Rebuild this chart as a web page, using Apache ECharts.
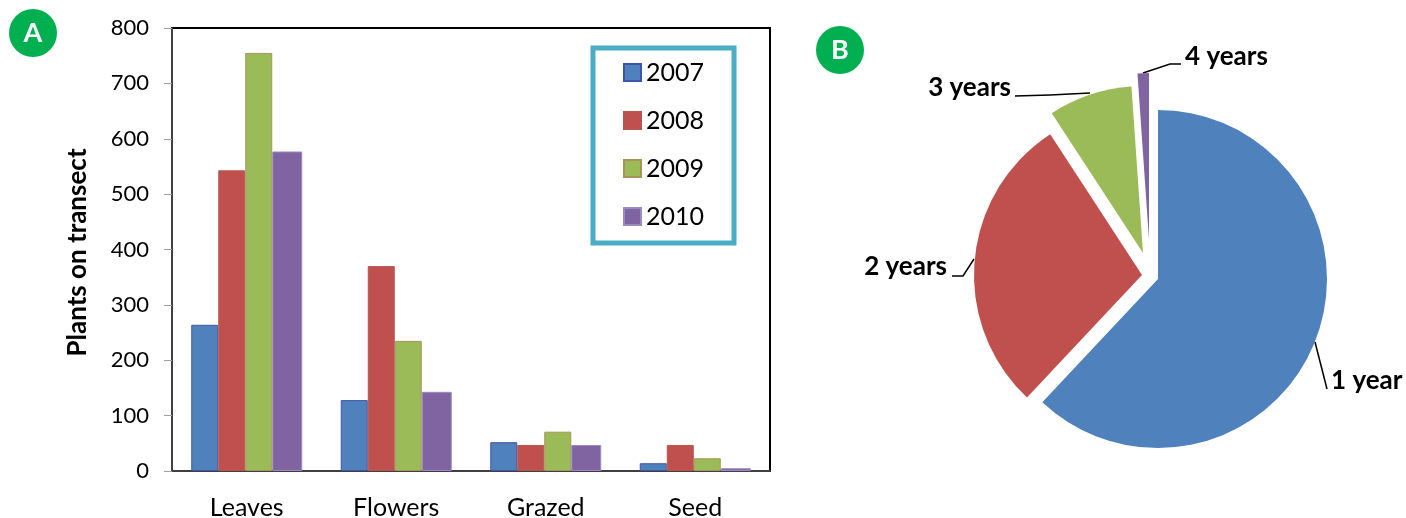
<!DOCTYPE html>
<html>
<head>
<meta charset="utf-8">
<title>Plants on transect</title>
<style>
  html, body { margin: 0; padding: 0; background: #fff; }
  #chart { width: 1406px; height: 518px; }
</style>
<script src="https://cdn.jsdelivr.net/npm/echarts@6/dist/echarts.min.js"></script>
</head>
<body>
<div id="chart"></div>
<script>
const categories = ["Leaves", "Flowers", "Grazed", "Seed"];
const yearNames = ["2007", "2008", "2009", "2010"];
const values2007 = [264, 128, 52, 14];
const values2008 = [543, 370, 47, 47];
const values2009 = [755, 235, 71, 23];
const values2010 = [577, 143, 47, 5];
const yTicks = [0, 800, 100];

const pieNames = ["1 year", "2 years", "3 years", "4 years"];
const pieValues = [62, 28.8, 8.1, 1.1];

const FONT = "Lato";
const colors = ["#4f81bd", "#c0504d", "#9bbb59", "#8064a2"];
const barBorders = ["#3f55a8", "#b5564f", "#a8935a", "#9a8cc0"];
const barWidths = [27, 27, 27, 30];

// each exploded slice is its own pie, pulled away from the shared apex
const sliceCenters = [[1158, 279], [1142, 275], [1143, 253], [1149, 240]];
const sliceRadii = [169, 168, 167, 167];
const labelSpots = [
  { x: 1331, y: 381, align: "left", line: [[1315, 342], [1327, 389], [1327, 389]] },
  { x: 947, y: 267, align: "right", line: [[974, 259], [963, 276], [952, 276]] },
  { x: 1011, y: 88, align: "right", line: [[1090, 93], [1050, 95], [1015, 96]] },
  { x: 1185, y: 57, align: "left", line: [[1143, 73], [1170, 64], [1181, 64]] },
];

const barValues = [values2007, values2008, values2009, values2010];

const barSeries = yearNames.map((name, i) => ({
  name,
  type: "bar",
  data: barValues[i],
  barWidth: barWidths[i],
  barGap: 0,
  itemStyle: { color: colors[i], borderColor: barBorders[i], borderWidth: 1 },
}));

const pieSeries = pieNames.map((name, i) => ({
  type: "pie",
  center: sliceCenters[i],
  radius: [0, sliceRadii[i]],
  startAngle: 90,
  silent: true,
  avoidLabelOverlap: false,
  data: pieNames.map((n, j) => ({
    name: n,
    value: pieValues[j],
    itemStyle: { color: j === i ? colors[i] : "rgba(0,0,0,0)" },
    label: { show: j === i },
    labelLine: { show: j === i },
  })),
  label: {
    position: "outside",
    color: "#000",
    fontFamily: FONT,
    fontWeight: "bold",
    fontSize: 26,
    formatter: "{b}",
  },
  labelLine: { lineStyle: { color: "#000", width: 1.5 }, smooth: false },
  labelLayout: (params) => {
    const spot = labelSpots[i];
    return {
      x: spot.x,
      y: spot.y,
      align: spot.align,
      verticalAlign: "middle",
      labelLinePoints: spot.line,
    };
  },
}));

const badge = (cx, cy, letter) => [
  { type: "circle", shape: { cx, cy, r: 24 }, style: { fill: "#00b050" }, silent: true },
  {
    type: "text",
    silent: true,
    style: {
      x: cx,
      y: cy,
      text: letter,
      fill: "#fff",
      font: `bold 27px ${FONT}`,
      align: "center",
      verticalAlign: "middle",
    },
  },
];

const chart = echarts.init(document.getElementById("chart"), null, { renderer: "canvas" });

chart.setOption({
  animation: false,
  textStyle: { fontFamily: FONT },
  grid: {
    left: 172,
    top: 28,
    width: 598,
    height: 443,
    show: true,
    borderColor: "#000",
    borderWidth: 2,
    containLabel: false,
    outerBoundsMode: "none",
  },
  legend: {
    data: yearNames,
    orient: "vertical",
    left: 593,
    top: 48,
    padding: [12, 30, 14, 30],
    itemWidth: 17,
    itemHeight: 17,
    itemGap: 23,
    borderColor: "#4bacc6",
    borderWidth: 5,
    icon: "rect",
    textStyle: { fontFamily: FONT, fontSize: 25, color: "#000" },
  },
  xAxis: {
    type: "category",
    data: categories,
    axisLine: { lineStyle: { color: "#404040", width: 2 } },
    axisTick: { length: 8, lineStyle: { color: "#a0a0a0", width: 1 } },
    axisLabel: { color: "#000", fontSize: 25, fontFamily: FONT, margin: 24 },
  },
  yAxis: {
    type: "value",
    min: yTicks[0],
    max: yTicks[1],
    interval: yTicks[2],
    name: "Plants on transect",
    nameLocation: "middle",
    nameGap: 81,
    nameTextStyle: {
      color: "#000",
      fontSize: 26,
      fontWeight: "bold",
      fontFamily: FONT,
      padding: [0, 6, 0, 0],
    },
    splitLine: { show: false },
    axisLine: { show: true, lineStyle: { color: "#404040", width: 2 } },
    axisTick: { show: true, length: 8, lineStyle: { color: "#a0a0a0", width: 1 } },
    axisLabel: { color: "#000", fontSize: 22, fontFamily: FONT, margin: 23 },
  },
  series: [...barSeries, ...pieSeries],
  graphic: [...badge(33, 33, "A"), ...badge(840, 50, "B")],
});
</script>
</body>
</html>
